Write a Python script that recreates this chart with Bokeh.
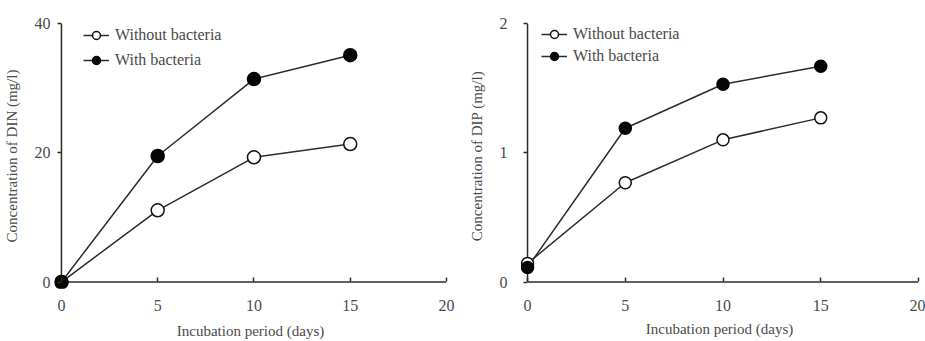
from bokeh.plotting import figure
from bokeh.layouts import row
from bokeh.models import Range1d, Legend, LegendItem, FixedTicker
from bokeh.embed import file_html
from bokeh.resources import INLINE

days = [0, 5, 10, 15]
din_without = [0.0, 11.1, 19.3, 21.35]
din_with = [0.0, 19.5, 31.4, 35.1]
dip_without = [0.144, 0.768, 1.10, 1.27]
dip_with = [0.113, 1.19, 1.53, 1.67]
x_ticks = [0, 5, 10, 15, 20]
x_max = 20
din_ticks = [0, 20, 40]
dip_ticks = [0, 1, 2]
series_labels = ["Without bacteria", "With bacteria"]

FONT = "Liberation Serif"
TXT = "#4a4a4a"
LINE = "#2b2b2b"


def make(width, ylo, yticks, xstart, ylabel, yw, yd, mb_left, mb_right, mb_top, mb_bottom,
         y_std, y_lab_std, x_lab_std, leg_loc, msize, sp):
    ytop = yticks[-1]
    p = figure(width=width, height=341, output_backend="svg", toolbar_location=None,
               x_range=Range1d(xstart, x_max), y_range=Range1d(ylo, ytop),
               min_border_left=mb_left, min_border_right=mb_right,
               min_border_top=mb_top, min_border_bottom=mb_bottom)
    p.outline_line_color = None
    p.grid.grid_line_color = None
    for ax in (p.xaxis[0], p.yaxis[0]):
        ax.axis_line_color = None
        ax.major_tick_line_color = LINE
        ax.major_tick_line_width = 1.5
        ax.minor_tick_line_color = None
        ax.major_label_text_font = FONT
        ax.major_label_text_font_size = "16px"
        ax.major_label_text_color = TXT
        ax.axis_label_text_font = FONT
        ax.axis_label_text_font_style = "normal"
        ax.axis_label_text_color = TXT
    p.xaxis.ticker = FixedTicker(ticks=x_ticks)
    p.yaxis.ticker = FixedTicker(ticks=yticks)
    # axes are drawn at x=0 / y=0 (7 px inside the frame edge)
    p.xaxis.major_tick_in = 11
    p.xaxis.major_tick_out = -7
    p.yaxis.major_tick_in = 7
    p.yaxis.major_tick_out = -3
    p.xaxis.major_label_standoff = 11
    p.yaxis.major_label_standoff = y_std
    p.xaxis.axis_label = "Incubation period (days)"
    p.yaxis.axis_label = ylabel
    p.xaxis.axis_label_text_font_size = "15px"
    p.yaxis.axis_label_text_font_size = "15px"
    p.xaxis.axis_label_standoff = x_lab_std
    p.yaxis.axis_label_standoff = y_lab_std

    # axis lines at the data origin
    p.segment(x0=[0, 0], y0=[0, 0], x1=[0, x_max], y1=[ytop, 0], line_color=LINE, line_width=1.5)

    l1 = p.line(days, yw, line_color=LINE, line_width=1.5)
    l2 = p.line(days, yd, line_color=LINE, line_width=1.5)
    m1 = p.scatter(days, yw, size=msize, marker="circle", fill_color="white",
                   line_color="#111111", line_width=1.5)
    m2 = p.scatter(days, yd, size=msize, marker="circle", fill_color="#050505",
                   line_color="#050505", line_width=1.5)
    legend = Legend(items=[LegendItem(label=series_labels[0], renderers=[l1, m1]),
                           LegendItem(label=series_labels[1], renderers=[l2, m2])],
                    location=leg_loc, border_line_color=None, background_fill_alpha=0,
                    padding=0, margin=0, spacing=sp, glyph_width=26, glyph_height=20,
                    label_height=20, label_standoff=6, label_text_font=FONT,
                    label_text_font_size="16px", label_text_color=TXT)
    p.add_layout(legend)
    return p


p1 = make(460, -1.0, din_ticks, -0.36, "Concentration of DIN (mg/l)",
          din_without, din_with, 54, 14, 19, 51, 4, 12, 9, (29, 218), 13, 5)
p2 = make(465, -0.05, dip_ticks, -0.36, "Concentration of DIP (mg/l)",
          dip_without, dip_with, 60, 7, 23, 51, 13, 12, 7, (21, 222), 12, 2)

layout = row(p1, p2)
open("out.html", "w").write(file_html(layout, INLINE))
